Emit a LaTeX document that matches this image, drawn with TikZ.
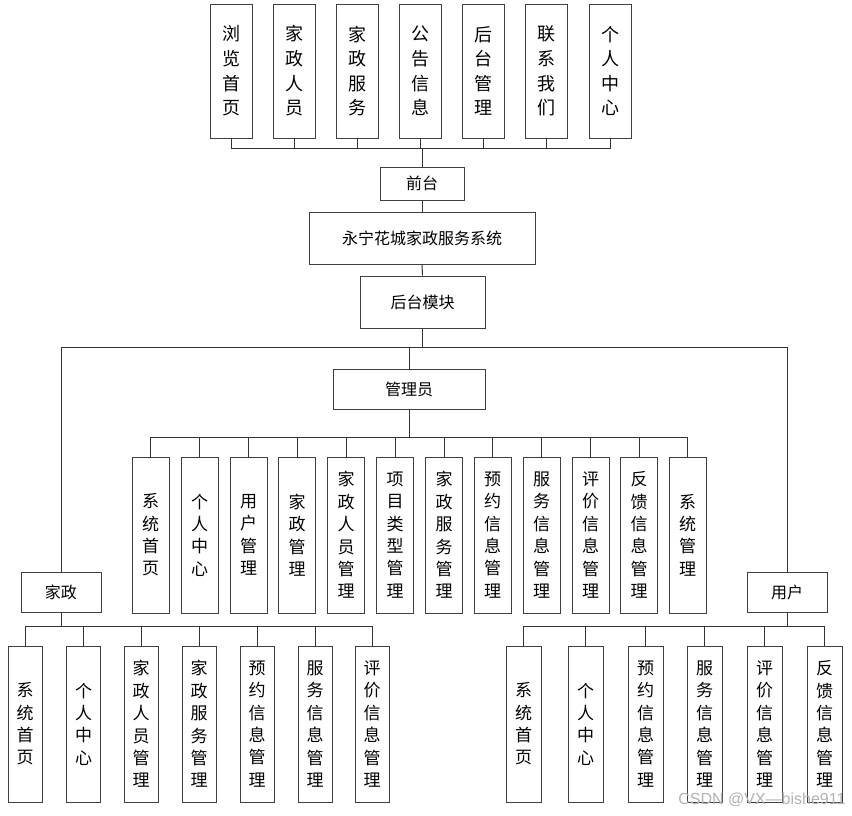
\documentclass[tikz,border=0pt]{standalone}
\usepackage{fontspec}
\setmainfont{Noto Sans CJK SC}
\newfontfamily\wmfont{Liberation Sans}
\usetikzlibrary{calc}
\tikzset{
  x=1pt,y=1pt,
  box/.style={draw=black!75, line width=1pt, fill=white, inner sep=0pt, align=center},
  hbox/.style={box, font=\fontsize{16}{18}\selectfont},
  topv/.style={box, minimum width=42pt, minimum height=134pt, font=\fontsize{18}{24.6}\selectfont},
  admv/.style={box, minimum width=37pt, minimum height=156pt, font=\fontsize{17}{22.4}\selectfont},
  jzv/.style={box, minimum width=34pt, minimum height=156pt, font=\fontsize{17}{22.4}\selectfont},
  yhv/.style={box, minimum width=35pt, minimum height=156pt, font=\fontsize{17}{22.4}\selectfont},
  conn/.style={draw=black!80, line width=1pt}
}
\begin{document}
\begin{tikzpicture}
\useasboundingbox (0,0) rectangle (852,-815);
% top
\node[topv] (t1) at (231,-71) {浏\\览\\首\\页};
\node[topv] (t2) at (294,-71) {家\\政\\人\\员};
\node[topv] (t3) at (357,-71) {家\\政\\服\\务};
\node[topv] (t4) at (420,-71) {公\\告\\信\\息};
\node[topv] (t5) at (483,-71) {后\\台\\管\\理};
\node[topv] (t6) at (546,-71) {联\\系\\我\\们};
\node[topv] (t7) at (610,-71) {个\\人\\中\\心};
\node[hbox, minimum width=84pt, minimum height=33pt] (qt) at (422,-183.5) {前台};
\node[hbox, minimum width=226pt, minimum height=52pt] (sys) at (422,-238) {永宁花城家政服务系统};
\node[hbox, minimum width=125pt, minimum height=52pt] (ht) at (422.5,-302) {后台模块};
\node[hbox, minimum width=152pt, minimum height=40pt] (gly) at (409,-389) {管理员};
\node[hbox, minimum width=80pt, minimum height=40pt] (jz) at (61,-592) {家政};
\node[hbox, minimum width=80pt, minimum height=40pt] (yh) at (787,-592) {用户};
% admin children
\node[admv] (a1) at (150.5,-535) {系\\统\\首\\页};
\node[admv] (a2) at (199.5,-535) {个\\人\\中\\心};
\node[admv] (a3) at (248.5,-535) {用\\户\\管\\理};
\node[admv] (a4) at (297,-535) {家\\政\\管\\理};
\node[admv] (a5) at (346,-535) {家\\政\\人\\员\\管\\理};
\node[admv] (a6) at (395,-535) {项\\目\\类\\型\\管\\理};
\node[admv] (a7) at (444,-535) {家\\政\\服\\务\\管\\理};
\node[admv] (a8) at (492.5,-535) {预\\约\\信\\息\\管\\理};
\node[admv] (a9) at (541.5,-535) {服\\务\\信\\息\\管\\理};
\node[admv] (a10) at (590.5,-535) {评\\价\\信\\息\\管\\理};
\node[admv] (a11) at (639,-535) {反\\馈\\信\\息\\管\\理};
\node[admv] (a12) at (687.5,-535) {系\\统\\管\\理};
% jz children
\node[jzv] (j1) at (25,-724) {系\\统\\首\\页};
\node[jzv] (j2) at (83.5,-724) {个\\人\\中\\心};
\node[jzv] (j3) at (141,-724) {家\\政\\人\\员\\管\\理};
\node[jzv] (j4) at (199,-724) {家\\政\\服\\务\\管\\理};
\node[jzv] (j5) at (257,-724) {预\\约\\信\\息\\管\\理};
\node[jzv] (j6) at (315,-724) {服\\务\\信\\息\\管\\理};
\node[jzv] (j7) at (372,-724) {评\\价\\信\\息\\管\\理};
% yh children
\node[yhv] (u1) at (523.5,-724) {系\\统\\首\\页};
\node[yhv] (u2) at (585.5,-724) {个\\人\\中\\心};
\node[yhv] (u3) at (645.5,-724) {预\\约\\信\\息\\管\\理};
\node[yhv] (u4) at (704.5,-724) {服\\务\\信\\息\\管\\理};
\node[yhv] (u5) at (764.5,-724) {评\\价\\信\\息\\管\\理};
\node[yhv] (u6) at (824.5,-724) {反\\馈\\信\\息\\管\\理};
% connectors
\foreach \i in {1,...,7} \draw[conn] (t\i.south) -- ++(0,-10) -| (qt.north);
\draw[conn] (qt.south) -- (sys.north);
\draw[conn] (sys.south) -- (ht.north);
\coordinate (b1) at ($(ht.south)+(0,-19)$);
\draw[conn] (ht.south) -- (b1);
\draw[conn] (b1) -| (jz.north);
\draw[conn] (b1) -| (yh.north);
\draw[conn] (b1) -| (gly.north);
\foreach \i in {1,...,12} \draw[conn] (gly.south) -- ++(0,-28) -| (a\i.north);
\foreach \i in {1,...,7} \draw[conn] (jz.south) -- ++(0,-14) -| (j\i.north);
\foreach \i in {1,...,6} \draw[conn] (yh.south) -- ++(0,-14) -| (u\i.north);
% watermark
\node[text=black!30, font=\wmfont\fontsize{16}{18}\selectfont, anchor=east] (wm) at (849,-800) {CSDN @VX—bishe911};
\end{tikzpicture}
\end{document}
